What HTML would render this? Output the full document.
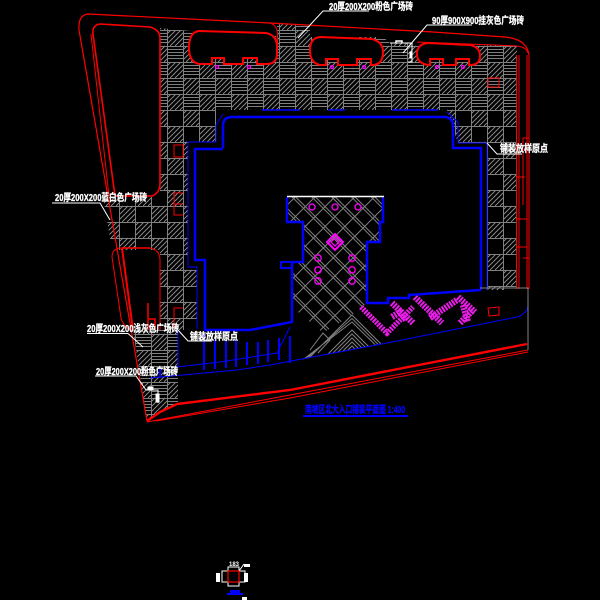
<!DOCTYPE html>
<html><head><meta charset="utf-8"><style>
html,body{margin:0;padding:0;background:#000;width:600px;height:600px;overflow:hidden}
svg{display:block}
text{font-family:"Liberation Sans","Noto Sans CJK SC",sans-serif;font-weight:bold;font-size:10px}
</style></head><body>
<svg width="600" height="600" viewBox="0 0 600 600" xmlns="http://www.w3.org/2000/svg">
<defs>
<pattern id="pa" x="167" y="62" width="32" height="32" patternUnits="userSpaceOnUse">
<g stroke="#808080" stroke-width="1" fill="none" shape-rendering="crispEdges">
<path d="M0 4L4 0M0 9L9 0M0 14L14 0M3 16L16 3M8 16L16 8M13 16L16 13"/>
<path transform="translate(16,16)" d="M0 4L4 0M0 9L9 0M0 14L14 0M3 16L16 3M8 16L16 8M13 16L16 13"/>
<path d="M16 3.5H32M16 6.5H32M16 9.5H32M16 12.5H32M0 19.5H16M0 22.5H16M0 25.5H16M0 28.5H16"/>
<path d="M.5 0V32M16.5 0V32M0 .5H32M0 16.5H32" stroke-width="1"/>
</g></pattern>
<pattern id="pb" x="167" y="62" width="32" height="32" patternUnits="userSpaceOnUse">
<g stroke="#808080" stroke-width="1" fill="none" shape-rendering="crispEdges">
<path d="M0 4L4 0M0 9L9 0M0 14L14 0M3 16L16 3M8 16L16 8M13 16L16 13"/>
<path transform="translate(16,16)" d="M0 4L4 0M0 9L9 0M0 14L14 0M3 16L16 3M8 16L16 8M13 16L16 13"/>
<path d="M.5 0V32M16.5 0V32M0 .5H32M0 16.5H32"/>
</g></pattern>
<pattern id="pl" x="335" y="196" width="14" height="14" patternUnits="userSpaceOnUse" patternTransform="rotate(45 335 196)">
<path d="M0 .5H14M.5 0V14M0 3H14" stroke="#808080" stroke-width="1" fill="none"/>
</pattern>
<clipPath id="chev"><polygon points="290,340 352,312 400,340 387,343 310,358 290,362"/></clipPath>
</defs>
<rect width="600" height="600" fill="#000"/>

<!-- paved regions -->
<polygon fill="url(#pa)" points="160,28 190,31 277,36 277,24 310,26 310,37 383,37 390,43 517,46 517,110 160,110"/>
<polygon fill="url(#pb)" points="160,110 216,110 216,142 188,142 188,267 197,267 197,330 160,330"/>
<polygon fill="url(#pb)" points="103,197 160,197 160,250 112,250"/>
<polygon fill="url(#pb)" points="447,110 517,110 517,290 487,290 487,143 458,143"/>
<polygon fill="url(#pa)" points="133,330 178,330 178,403 160,412 147,421"/>

<!-- islands -->
<g fill="#000" stroke="#f00" stroke-width="2">
<path d="M199 31L266 33Q277 35 277 47V54Q277 64 266 64H257V58H243V64H224V58H212V64H199Q189 62 189 48Q189 32 199 31Z"/>
<path d="M320 37L372 39Q383 42 383 52Q383 65 372 65H371V59H357V65H338V59H326V65H320Q310 63 310 50Q310 38 320 37Z"/>
<path d="M428 43L470 45Q480 47 480 56Q480 65 470 65H469V59H456V65H443V59H430V65H428Q417 63 417 54Q417 44 428 43Z"/>
</g>
<g fill="none" stroke="#f00" stroke-width="1">
<path d="M270 23Q277 25 277.500 34V50Q277 60 272 63"/>
<path d="M417 42L517 46Q526 47 528 53"/>
</g>

<!-- red boundaries -->
<g fill="none" stroke="#f00">
<path stroke-width="1.2" d="M147 421L79 30Q78 15 88 14L270 23L433 32L505 37Q527 39 529 55"/>
<path stroke-width="1.6" d="M115 196L93 34Q92 25 100 24L150 27Q160 30 160 38V183Q160 193 152 196H115"/>
<path stroke-width="1" d="M109 196L91 34"/>
<path stroke-width="1" d="M112 257Q112 248 122 248H150Q160 250 160 260V330"/>
<path stroke-width="1" d="M112 257L121 318Q124 328 133 331"/>
<path stroke-width="2" d="M122 248L133 330"/>
<path stroke-width="1.5" d="M122 248H150"/>
<path stroke-width="2.400" d="M147 421L160 412L177 404L290 390L527 344"/>
<path stroke-width="1" d="M147 422L290 395L528 350M156 421L290 398L528 352"/>
<path stroke-width="1" d="M516.500 55V289M519 55V289M523 138V205M527 55V289M529 55V289"/>
<path stroke-width="1" d="M523 138H529M516 177H525M516 219H527M516 247H527M523 258H529M516 288H529"/>
<rect x="488" y="78" width="11" height="9"/>
<path d="M488 308L499 307V315L489 316Z"/>
<rect x="174" y="145" width="9" height="12"/>
<path d="M183 193H174V215H183M174 204H183"/>
<path d="M183 308H174V330"/>
<path stroke-width="1.500" d="M148 303V330M149 319H155V330"/>
</g>

<!-- plaza -->
<polygon fill="url(#pl)" points="287,197 383,197 383,222 380,222 380,242 367,242 367,303 352,315 323,333 292,307 292,262 303,262 303,222 287,222"/>
<g fill="none" stroke="#808080" stroke-width="1" clip-path="url(#chev)">
<path d="M300 367L352 315L410 373M298 366L352 318.500L407 373M296 365L352 322L404 373"/>
<path d="M290 392L352 330L410 388M290 396L352 334L410 392M290 400L352 338L410 396M290 404L352 342L410 400M290 408L352 346L410 404"/>
</g>
<path d="M310 350L323 333L330 340L318 353" fill="none" stroke="#808080"/>
<g fill="none" stroke="#f0f" stroke-width="1.300">
<circle cx="312" cy="207" r="3"/><circle cx="335" cy="207" r="3"/><circle cx="358" cy="207" r="3"/>
<circle cx="318" cy="258" r="3.200"/><circle cx="318" cy="270" r="3.200"/><circle cx="318" cy="281" r="3.200"/>
<circle cx="352" cy="258" r="3.200"/><circle cx="352" cy="270" r="3.200"/><circle cx="352" cy="281" r="3.200"/>
<path stroke-width="2" d="M335 234L343 242L335 250L327 242Z"/>
<path d="M335 238L339 242L335 246L331 242Z"/>
<circle cx="217" cy="67" r="1.500"/><circle cx="249" cy="67" r="1.500"/><circle cx="332" cy="67" r="1.500"/>
<circle cx="364" cy="67" r="1.500"/><circle cx="437" cy="67" r="1.500"/><circle cx="463" cy="67" r="1.500"/>
</g>

<!-- magenta planters -->
<g fill="none" stroke="#e81ee8" stroke-width="6.500" stroke-dasharray="2 1">
<path d="M361 307L387 333L413 307" stroke-width="5.500"/>
<path d="M392 303L413 323"/>
<path d="M392 317L400 312L406 320"/>
<path d="M415 297L442 323"/>
<path d="M430 318L457 300"/>
<path d="M458 297L475 312"/>
<path d="M460 323L473 310"/>
<path d="M463 305L468 322"/>
</g>

<!-- blue building -->
<g fill="none" stroke="#00f" stroke-linejoin="miter">
<path stroke-width="2.500" d="M223 148V126Q223 117 232 117H445Q453 118 453 126V148H481V289L480 290L409 295V298H388V303H367V242H380V222H383V197M287 197V222H303V262H292V322L250 330H205V260H195V149H223"/>
<path stroke-width="2" d="M292 262H281V268H292"/>
<path stroke-width="1" d="M188 267V142H216V125L223 114M188 267H197V329M458 143L458 122L447 112M458 143H487V290"/>
<path stroke-width="1" d="M528 305L527 310Q522 316 517 317L387 343L270 365L237 370L150 378"/>
<path stroke-width="1" d="M177 367L220 362L277 353L290 327"/>
<path stroke-width="1.500" d="M262 110H300M328 110H342M392 110H438M340 110H345"/>
<path stroke-width="1" d="M178 330V367"/>
<path stroke-width="2" d="M204 333V370M215 340V369M226 340V368M236 340V367M247 342V365M258 342V364M268 340V362M279 338V360M290 336V363"/>
<path stroke-width="2" d="M160 369V378"/>
</g>
<path d="M287 196.500H384" stroke="#fff" stroke-width="1.500"/>

<!-- right edge gray -->
<path d="M480 288H528V350" fill="none" stroke="#808080" stroke-width="1"/>

<!-- white markers -->
<g fill="none" stroke="#fff" stroke-width="1">
<path d="M390 43H412V62H408"/><path d="M396 43V41H402V43" stroke-width="1.500"/>
<rect x="410" y="52" width="2" height="6" fill="#fff"/>
<path d="M146 390H158V403"/><rect x="156" y="394" width="3" height="8" fill="#fff"/><rect x="148" y="387" width="5" height="3" fill="#fff"/>
</g>

<!-- leaders -->
<g fill="none" stroke="#fff" stroke-width="1">
<path d="M369 11H323L298 38"/>
<path d="M472 25H427L403 53"/>
<path d="M487 143L497 154H522"/>
<path d="M52 203H100L110 220"/>
<path d="M87 333.500H128L143 347"/>
<path d="M178 330L188 341H212"/>
<path d="M95 376H136L146 390"/>
</g>

<!-- labels -->
<g fill="#fff" stroke="#fff" stroke-width=".3">
<text x="329" y="10" textLength="84" lengthAdjust="spacingAndGlyphs">20厚200X200粉色广场砖</text>
<text x="432" y="24" textLength="92" lengthAdjust="spacingAndGlyphs">90厚900X900挂灰色广场砖</text>
<text x="500" y="152" textLength="48" lengthAdjust="spacingAndGlyphs">铺装放样原点</text>
<text x="55" y="201" textLength="92" lengthAdjust="spacingAndGlyphs">20厚200X200蓝白色广场砖</text>
<text x="87" y="332" textLength="92" lengthAdjust="spacingAndGlyphs">20厚200X200浅灰色广场砖</text>
<text x="190" y="340" textLength="48" lengthAdjust="spacingAndGlyphs">铺装放样原点</text>
<text x="96" y="375" textLength="82" lengthAdjust="spacingAndGlyphs">20厚200X200粉色广场砖</text>
</g>
<text x="305" y="413" textLength="100" lengthAdjust="spacingAndGlyphs" fill="#00f" stroke="#00f" stroke-width=".3">南坡区北大入口铺装平面图 1:400</text>
<rect x="303" y="415" width="105" height="2" fill="#00f"/>

<!-- bottom detail -->
<g fill="none" stroke="#fff" stroke-width="1">
<rect x="222" y="571" width="23" height="11"/>
<rect x="228" y="567" width="11" height="19"/>
<path d="M239 571L244 564"/>
</g>
<rect x="228" y="571" width="11" height="11" fill="none" stroke="#f00" stroke-width="1.200"/>
<text x="229" y="566" fill="#fff" textLength="10" lengthAdjust="spacingAndGlyphs" style="font-size:6px">183</text>
<rect x="216" y="573" width="4" height="9" fill="#fff"/>
<rect x="244" y="573" width="4" height="9" fill="#fff"/>
<rect x="244" y="564" width="6" height="3" fill="#fff"/>
<polygon points="230,590 240,590 240,593 243,593 243,595 227,595 227,593 230,593" fill="#00f"/>
<rect x="242" y="597" width="5" height="3" fill="#fff"/>
</svg>
</body></html>
